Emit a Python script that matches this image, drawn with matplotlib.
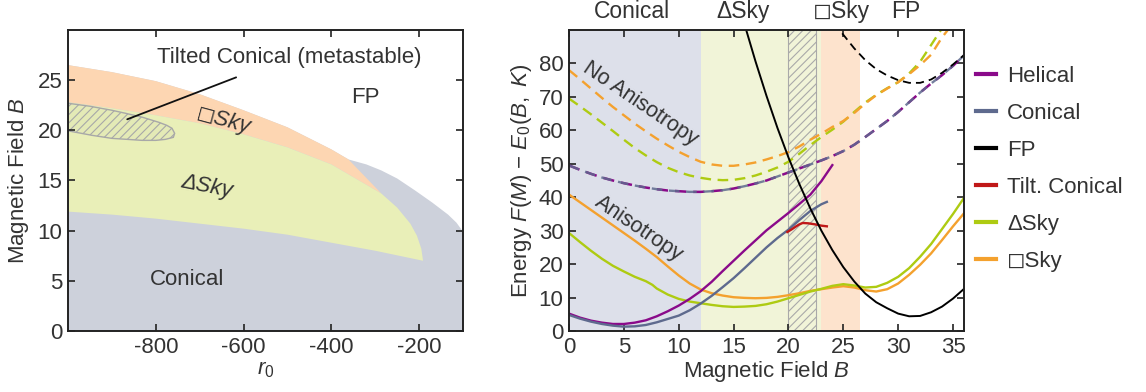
import matplotlib
matplotlib.use("Agg")
import matplotlib.pyplot as plt
from matplotlib.lines import Line2D
from matplotlib.transforms import blended_transform_factory

plt.rcParams["font.family"] = ["Liberation Sans", "DejaVu Sans"]
plt.rcParams["mathtext.fontset"] = "custom"
plt.rcParams["mathtext.rm"] = "Liberation Sans"
plt.rcParams["mathtext.it"] = "Liberation Sans:italic"
plt.rcParams["axes.unicode_minus"] = False
plt.rcParams["hatch.linewidth"] = 0.8

TEXT = "#333333"
SPINE = "#222222"
SQ = "\u25fb"  # open square used in the skyrmion labels

# ---- phase diagram boundaries, (r0, B) ----
fp_r = [-1000, -900, -800, -700, -600, -500, -400, -361]
fp_B = [26.5, 25.8, 24.9, 23.6, 22.0, 20.3, 18.1, 17.1]
gray_r = [-361, -320, -286, -250, -209, -170, -134, -115, -100]
gray_B = [17.1, 16.6, 16.0, 15.2, 14.0, 12.8, 11.6, 10.8, 9.9]
dsky_top_r = [-1000, -900, -800, -700, -600, -500, -400, -286]
dsky_top_B = [22.8, 22.2, 21.5, 20.7, 19.6, 18.3, 16.6, 13.7]
dsky_right_r = [-286, -250, -220, -205, -195, -191]
dsky_right_B = [13.7, 12.3, 10.7, 9.5, 8.2, 7.0]
dsky_bot_r = [-191, -300, -400, -500, -600, -700, -800, -900, -1000]
dsky_bot_B = [7.0, 8.0, 8.8, 9.6, 10.2, 10.7, 11.2, 11.6, 11.9]
tilt_r = [-1000, -950, -900, -869, -830, -793, -775, -763, -757, -760, -778,
          -800, -831, -900, -945, -1000]
tilt_B = [22.7, 22.4, 22.0, 21.7, 21.3, 20.8, 20.5, 20.2, 19.7, 19.3, 19.1,
          19.0, 19.0, 19.2, 19.5, 19.95]

# ---- energies vs field ----
B_int = list(range(0, 37))

helical = [5.2, 4.0, 3.1, 2.5, 2.1, 2.1, 2.5, 3.2, 4.4, 5.9, 7.6, 9.6, 11.9,
           14.7, 17.9, 21.0, 24.1, 27.1, 30.1, 32.7, 35.3, 38.0, 40.8, 44.8, 49.6]
conical = [4.8, 3.7, 2.8, 2.1, 1.6, 1.3, 1.4, 1.8, 2.6, 3.6, 4.6, 6.2, 8.2,
           10.5, 13.1, 15.8, 18.8, 21.9, 25.0, 27.8, 30.3, 33.2, 35.9, 37.9]
conical_end = (23.5, 38.6)

fp_B_field = [16.15, 17, 18, 19, 20, 21, 22, 23, 24, 25, 26, 27, 28, 29, 30,
              31, 32, 33, 34, 35, 36]
fp_energy = [90.0, 80.6, 70.3, 60.7, 51.9, 43.9, 36.6, 30.0, 24.2, 19.1, 14.8,
             11.2, 8.6, 6.8, 5.2, 4.4, 4.5, 5.6, 7.3, 9.7, 12.6]

tilt_field = [19.9, 20.3, 20.7, 21.0, 21.3, 21.8, 22.4, 23.0, 23.5]
tilt_energy = [29.6, 30.4, 31.3, 31.9, 32.3, 32.2, 31.9, 31.5, 31.3]

dsky_field = [0, 1, 2, 3, 4, 5, 6, 7, 7.6, 8, 9, 10, 11, 12, 13, 14, 15, 16,
              17, 18, 19, 20, 21, 22, 23, 24, 25, 26, 27, 28, 29, 30, 31, 32,
              33, 34, 35, 36]
dsky_energy = [29.3, 26.6, 24.0, 21.6, 19.5, 17.8, 16.2, 14.9, 13.8, 12.7,
               10.9, 9.6, 8.8, 8.3, 7.8, 7.4, 7.2, 7.3, 7.5, 8.0, 8.8, 9.8,
               10.8, 11.8, 12.6, 13.5, 14.0, 13.6, 13.0, 13.2, 14.4, 16.2,
               18.8, 22.2, 26.0, 30.5, 35.0, 39.8]
sky_energy = [40.8, 38.5, 36.2, 33.9, 31.6, 29.3, 27.0, 24.6, 22.1, 19.3,
              16.6, 14.2, 12.4, 11.3, 10.6, 10.1, 9.9, 9.8, 9.9, 10.2, 10.7,
              11.3, 12.0, 12.5, 13.0, 13.4, 13.0, 12.2, 11.8, 12.5, 14.2,
              16.8, 19.8, 23.2, 27.2, 31.3, 35.2]

# no-anisotropy energies (dashed)
noani_conical = [49.5, 48.2, 47.0, 45.9, 45.0, 44.2, 43.5, 42.9, 42.4, 42.0,
                 41.8, 41.6, 41.6, 41.8, 42.1, 42.6, 43.3, 44.1, 45.0, 46.2,
                 47.4, 48.6, 49.8, 51.0, 52.3, 53.8, 55.7, 58.0, 60.4, 62.8,
                 65.5, 68.4, 71.3, 74.0, 76.5, 79.3, 82.4]
noani_dsky = [69.5, 67.2, 64.8, 62.3, 59.8, 57.2, 54.7, 52.5, 50.5, 48.8,
              47.5, 46.5, 45.8, 45.3, 45.1, 45.2, 45.7, 46.5, 47.6, 48.9,
              50.6, 53.0, 55.6, 58.0, 60.2, 62.6, 65.5, 68.3, 70.6, 72.6,
              74.4, 77.0, 80.5, 85.5, 90.5]
noani_sky = [78.0, 75.3, 72.5, 69.7, 67.0, 64.5, 62.0, 59.7, 57.5, 55.5, 53.6,
             52.0, 50.6, 49.8, 49.4, 49.4, 49.8, 50.4, 51.3, 52.3, 53.5, 55.2,
             57.2, 59.0, 61.0, 62.8, 65.2, 68.0, 70.5, 72.5, 74.4, 76.8,
             79.5, 82.6, 87.8, 92.0]
noani_fp_field = [24.9, 26, 27, 28, 29, 30, 31, 32, 33, 34, 35, 36]
noani_fp = [89.0, 84.5, 81.0, 78.3, 76.4, 75.0, 74.2, 74.2, 75.2, 77.2, 79.7, 82.5]

# phase windows along B (right panel background)
conical_win = (0, 12)
dsky_win = (12, 23)
tilt_win = (20, 22.5)
sky_win = (23, 26.5)

C_HEL = "#8a0a8a"
C_CON = "#5e6a8e"
C_FP = "#000000"
C_TILT = "#c01818"
C_DSKY = "#aecb12"
C_SKY = "#f4a12e"

fig = plt.figure(figsize=(11.46, 3.92), dpi=100)
ax1 = fig.add_axes([68 / 1146, 61 / 392, 395 / 1146, 301 / 392])
ax2 = fig.add_axes([569 / 1146, 61 / 392, 395 / 1146, 301 / 392])

for ax in (ax1, ax2):
    ax.tick_params(direction="in", length=5, width=1.2, top=True, right=True,
                   labelsize=16, labelcolor=TEXT, color=SPINE, pad=4)
    for s in ax.spines.values():
        s.set_linewidth(1.4)
        s.set_color(SPINE)

# ---------- left: phase diagram ----------
ax1.fill([-1000] + fp_r + gray_r[1:] + [-100, -1000],
         [0] + fp_B + gray_B[1:] + [0, 0], color="#cdd1db", lw=0)
ax1.fill(fp_r + dsky_top_r[::-1],
         fp_B + dsky_top_B[::-1], color="#fdd6b2", lw=0)
ax1.fill(dsky_top_r + dsky_right_r[1:] + dsky_bot_r[1:],
         dsky_top_B + dsky_right_B[1:] + dsky_bot_B[1:], color="#e9efb8", lw=0)
ax1.fill(tilt_r, tilt_B, facecolor="#e4eab6", edgecolor="#a8a8a8",
         hatch="////", lw=1.0)

ax1.set_xlim(-1000, -100)
ax1.set_ylim(0, 30)
ax1.set_xticks([-800, -600, -400, -200])
ax1.set_yticks([0, 5, 10, 15, 20, 25])
ax1.set_xlabel("$r_0$", fontsize=16, color=TEXT, labelpad=1)
ax1.set_ylabel("Magnetic Field $B$", fontsize=16, color=TEXT, labelpad=5)

ax1.annotate("Tilted Conical (metastable)", xy=(-865, 21.1), xytext=(-497, 27.3),
             ha="center", va="center", fontsize=16, color=TEXT,
             arrowprops=dict(arrowstyle="-", color="#111111", lw=1.3,
                             shrinkA=14, shrinkB=0))
ax1.text(-323, 23.3, "FP", fontsize=16, color=TEXT, ha="center", va="center")
ax1.text(-645, 20.9, SQ + "Sky", fontsize=16, color=TEXT, ha="center",
         va="center", rotation=-15, style="italic")
ax1.text(-683, 14.4, "ΔSky", fontsize=16, color=TEXT, ha="center",
         va="center", rotation=-11, style="italic")
ax1.text(-729, 5.1, "Conical", fontsize=16, color=TEXT, ha="center", va="center")

# ---------- right: energies ----------
ax2.axvspan(*conical_win, color="#dde0ea", lw=0)
ax2.axvspan(*dsky_win, color="#f1f4d8", lw=0)
ax2.axvspan(*sky_win, color="#fde3cd", lw=0)
ax2.axvspan(*tilt_win, facecolor="none", edgecolor="#a9a9a9", hatch="////",
            lw=0.8)

dash = (0, (4.5, 2.8))
ax2.plot(B_int[:len(noani_conical)], noani_conical, color=C_HEL, lw=1.8,
         ls=dash)
ax2.plot(B_int[:len(noani_conical)], noani_conical, color=C_CON, lw=1.7,
         ls=dash, alpha=0.85)
ax2.plot(B_int[:len(noani_dsky)], noani_dsky, color=C_DSKY, lw=1.7, ls=dash)
ax2.plot(B_int[:len(noani_sky)], noani_sky, color=C_SKY, lw=1.7, ls=dash)
ax2.plot(noani_fp_field, noani_fp, color=C_FP, lw=1.3, ls=dash)

ax2.plot(B_int[:len(sky_energy)], sky_energy, color=C_SKY, lw=1.7)
ax2.plot(dsky_field, dsky_energy, color=C_DSKY, lw=1.7)
ax2.plot(B_int[:len(helical)], helical, color=C_HEL, lw=1.7)
ax2.plot(B_int[:len(conical)] + [conical_end[0]], conical + [conical_end[1]],
         color=C_CON, lw=1.7)
ax2.plot(tilt_field, tilt_energy, color=C_TILT, lw=1.7)
ax2.plot(fp_B_field, fp_energy, color=C_FP, lw=1.4)

ax2.set_xlim(0, 36)
ax2.set_ylim(0, 90)
ax2.set_xticks([0, 5, 10, 15, 20, 25, 30, 35])
ax2.set_yticks([0, 10, 20, 30, 40, 50, 60, 70, 80])
ax2.set_xlabel("Magnetic Field $B$", fontsize=16, color=TEXT, labelpad=1)
ax2.set_ylabel("Energy $F(M)$ \u2212 $E_0(B,\\ K)$", fontsize=16, color=TEXT,
               labelpad=3)

ax2.text(6.5, 68, "No Anisotropy", fontsize=15.5, color=TEXT, rotation=-34,
         ha="center", va="center")
ax2.text(6.4, 30.7, "Anisotropy", fontsize=15.5, color=TEXT, rotation=-34,
         ha="center", va="center")

top = blended_transform_factory(ax2.transData, ax2.transAxes)
for xc, lab in [(5.7, "Conical"), (15.85, "ΔSky"), (24.8, SQ + "Sky"), (30.7, "FP")]:
    ax2.text(xc, 1.06, lab, transform=top, fontsize=16.5, color=TEXT,
             ha="center", va="center")

handles = [Line2D([], [], color=c, lw=3) for c in
           (C_HEL, C_CON, C_FP, C_TILT, C_DSKY, C_SKY)]
labels = ["Helical", "Conical", "FP", "Tilt. Conical", "ΔSky", SQ + "Sky"]
leg = fig.legend(handles, labels, loc="upper left",
                 bbox_to_anchor=(976 / 1146, 1 - 66 / 392), frameon=False,
                 fontsize=16, handlelength=0.9, handletextpad=0.5,
                 labelspacing=0.72, borderpad=0, borderaxespad=0)
for t in leg.get_texts():
    t.set_color(TEXT)

fig.savefig("out.png", dpi=100)
